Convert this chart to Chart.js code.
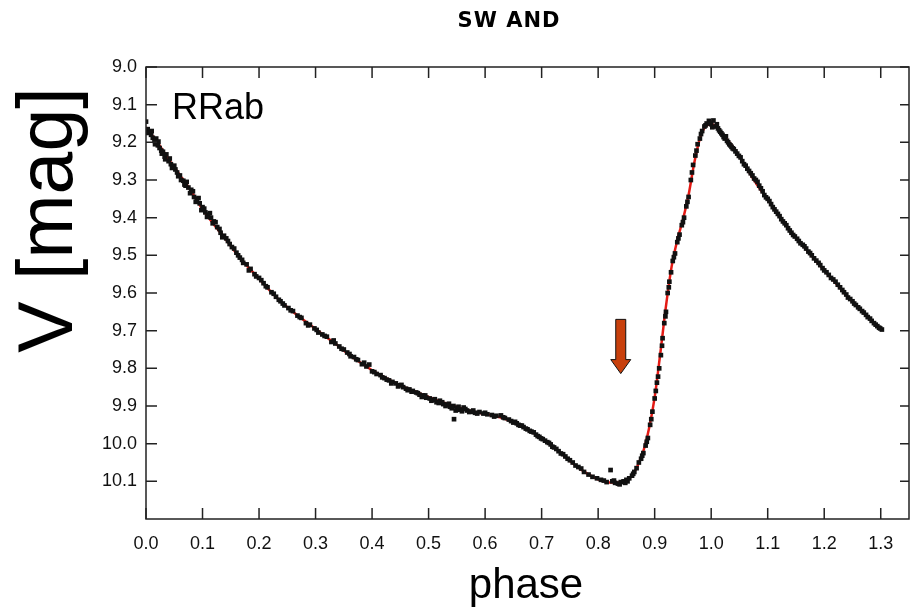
<!DOCTYPE html>
<html>
<head>
<meta charset="utf-8">
<title>SW AND light curve</title>
<script src="https://cdn.jsdelivr.net/npm/chart.js@4.4.1/dist/chart.umd.min.js"></script>
<style>
  html, body { margin: 0; padding: 0; background: #fff; }
  canvas { display: block; }
</style>
</head>
<body>
<canvas id="lightcurve" width="913" height="611"></canvas>
<script>
// Axis ticks and ranges
const phaseTicks = [0.0, 0.1, 0.2, 0.3, 0.4, 0.5, 0.6, 0.7, 0.8, 0.9, 1.0, 1.1, 1.2, 1.3];
const magTicks = [9.0, 9.1, 9.2, 9.3, 9.4, 9.5, 9.6, 9.7, 9.8, 9.9, 10.0, 10.1];
const phaseRange = [0, 1.35];
const magRange = [9.0, 10.2];

// Fitted light curve (red line)
const fitPhase = [0.00, 0.02, 0.04, 0.06, 0.08, 0.10, 0.12, 0.14, 0.16, 0.18,
                  0.20, 0.22, 0.24, 0.26, 0.28, 0.30, 0.32, 0.34, 0.36, 0.38,
                  0.40, 0.42, 0.44, 0.46, 0.48, 0.50, 0.52, 0.54, 0.56, 0.58,
                  0.60, 0.62, 0.64, 0.66, 0.68, 0.70, 0.72, 0.74, 0.76, 0.78,
                  0.80, 0.82, 0.84, 0.85, 0.86, 0.87, 0.88, 0.89, 0.90, 0.91,
                  0.92, 0.93, 0.94, 0.95, 0.96, 0.97, 0.98, 0.99, 1.00, 1.01,
                  1.02, 1.04, 1.06, 1.08, 1.10, 1.12, 1.14, 1.16, 1.18, 1.20,
                  1.22, 1.24, 1.26, 1.28, 1.30];
const fitMag = [9.160, 9.200, 9.245, 9.287, 9.330, 9.378, 9.418, 9.455, 9.495, 9.530,
                9.562, 9.595, 9.625, 9.650, 9.673, 9.695, 9.718, 9.740, 9.765, 9.785,
                9.805, 9.822, 9.838, 9.852, 9.864, 9.876, 9.888, 9.898, 9.907, 9.915,
                9.921, 9.927, 9.937, 9.950, 9.966, 9.986, 10.008, 10.033, 10.058, 10.079,
                10.095, 10.103, 10.103, 10.097, 10.085, 10.058, 10.020, 9.960, 9.877, 9.760,
                9.635, 9.530, 9.460, 9.405, 9.340, 9.255, 9.190, 9.158, 9.152, 9.160,
                9.178, 9.215, 9.262, 9.310, 9.352, 9.395, 9.435, 9.470, 9.505, 9.540,
                9.573, 9.608, 9.638, 9.668, 9.695];

// Observations [phase, V]
const obsPoints = [
  [0.000, 9.145], [0.003, 9.165], [0.006, 9.172], [0.009, 9.180], [0.012, 9.188],
  [0.015, 9.196], [0.018, 9.190], [0.021, 9.208], [0.024, 9.215], [0.027, 9.222],
  [0.030, 9.225], [0.033, 9.238], [0.036, 9.232], [0.040, 9.250], [0.044, 9.258],
  [0.048, 9.265], [0.052, 9.272], [0.057, 9.290], [0.062, 9.300], [0.066, 9.302],
  [0.070, 9.315], [0.075, 9.320], [0.080, 9.326], [0.085, 9.345], [0.090, 9.350],
  [0.095, 9.362], [0.100, 9.372], [0.105, 9.386], [0.110, 9.392], [0.115, 9.400],
  [0.120, 9.410], [0.126, 9.425], [0.132, 9.440], [0.138, 9.448], [0.145, 9.462],
  [0.152, 9.478], [0.160, 9.493], [0.166, 9.506], [0.172, 9.520], [0.178, 9.524],
  [0.185, 9.536], [0.192, 9.550], [0.200, 9.560], [0.208, 9.574], [0.215, 9.585],
  [0.222, 9.598], [0.230, 9.610], [0.238, 9.622], [0.245, 9.633], [0.252, 9.640],
  [0.260, 9.648], [0.268, 9.660], [0.275, 9.666], [0.283, 9.680], [0.290, 9.684],
  [0.298, 9.694], [0.305, 9.705], [0.312, 9.710], [0.320, 9.716], [0.328, 9.730],
  [0.335, 9.734], [0.342, 9.742], [0.350, 9.750], [0.356, 9.758], [0.362, 9.768],
  [0.368, 9.770], [0.375, 9.778], [0.382, 9.789], [0.390, 9.795], [0.395, 9.790],
  [0.400, 9.808], [0.408, 9.815], [0.415, 9.818], [0.422, 9.826], [0.430, 9.832],
  [0.436, 9.836], [0.442, 9.840], [0.448, 9.845], [0.455, 9.850], [0.460, 9.854],
  [0.466, 9.856], [0.472, 9.860], [0.478, 9.864], [0.484, 9.870], [0.490, 9.872],
  [0.496, 9.878], [0.502, 9.880], [0.508, 9.884], [0.514, 9.890], [0.520, 9.886],
  [0.526, 9.895], [0.532, 9.896], [0.538, 9.902], [0.544, 9.900], [0.545, 9.935],
  [0.550, 9.905], [0.556, 9.910], [0.562, 9.904], [0.568, 9.912], [0.575, 9.915],
  [0.582, 9.918], [0.590, 9.916], [0.597, 9.920], [0.604, 9.922], [0.612, 9.924],
  [0.620, 9.926], [0.628, 9.925], [0.635, 9.932], [0.642, 9.936], [0.650, 9.944],
  [0.656, 9.946], [0.662, 9.952], [0.668, 9.956], [0.675, 9.962], [0.682, 9.968],
  [0.690, 9.976], [0.696, 9.982], [0.702, 9.988], [0.710, 9.996], [0.716, 10.002],
  [0.722, 10.010], [0.730, 10.020], [0.738, 10.028], [0.746, 10.040], [0.755, 10.050],
  [0.765, 10.062], [0.775, 10.075], [0.790, 10.088], [0.805, 10.096], [0.815, 10.102],
  [0.822, 10.070], [0.825, 10.100], [0.830, 10.104], [0.835, 10.106], [0.840, 10.102],
  [0.845, 10.100], [0.850, 10.096], [0.855, 10.092], [0.860, 10.085], [0.864, 10.075],
  [0.868, 10.065], [0.872, 10.050], [0.876, 10.040], [0.880, 10.025], [0.884, 10.005],
  [0.888, 9.985], [0.892, 9.950], [0.896, 9.915], [0.900, 9.880], [0.904, 9.838],
  [0.908, 9.800], [0.911, 9.765], [0.914, 9.720], [0.917, 9.680], [0.920, 9.650],
  [0.923, 9.600], [0.926, 9.570], [0.929, 9.545], [0.932, 9.515], [0.936, 9.495],
  [0.940, 9.465], [0.944, 9.445], [0.948, 9.420], [0.952, 9.400], [0.956, 9.370],
  [0.960, 9.345], [0.964, 9.300], [0.968, 9.260], [0.972, 9.235], [0.976, 9.205],
  [0.980, 9.190], [0.984, 9.170], [0.988, 9.158], [0.992, 9.150], [0.996, 9.143],
  [1.000, 9.152], [1.004, 9.142], [1.008, 9.158], [1.012, 9.163], [1.016, 9.172],
  [1.020, 9.180], [1.024, 9.190], [1.028, 9.196], [1.032, 9.205], [1.036, 9.212],
  [1.040, 9.218], [1.046, 9.230], [1.052, 9.240], [1.058, 9.258], [1.064, 9.270],
  [1.070, 9.282], [1.076, 9.296], [1.082, 9.305], [1.088, 9.322], [1.094, 9.340],
  [1.100, 9.350], [1.106, 9.364], [1.112, 9.378], [1.118, 9.390], [1.124, 9.404],
  [1.130, 9.415], [1.136, 9.428], [1.142, 9.440], [1.148, 9.450], [1.155, 9.462],
  [1.162, 9.472], [1.168, 9.482], [1.175, 9.494], [1.182, 9.508], [1.190, 9.520],
  [1.197, 9.534], [1.204, 9.545], [1.212, 9.560], [1.220, 9.570], [1.228, 9.585],
  [1.235, 9.598], [1.242, 9.612], [1.250, 9.622], [1.256, 9.632], [1.263, 9.642],
  [1.270, 9.652], [1.277, 9.664], [1.284, 9.674], [1.291, 9.684], [1.297, 9.692],
  [1.302, 9.697],
  [0.004, 9.175], [0.010, 9.170], [0.016, 9.205], [0.022, 9.198], [0.028, 9.230],
  [0.034, 9.245], [0.042, 9.243], [0.046, 9.268], [0.050, 9.262], [0.055, 9.280],
  [0.060, 9.288], [0.068, 9.312], [0.072, 9.305], [0.078, 9.335], [0.083, 9.330],
  [0.088, 9.358], [0.093, 9.348], [0.098, 9.380], [0.103, 9.376], [0.108, 9.398],
  [0.113, 9.388], [0.118, 9.415], [0.123, 9.412], [0.130, 9.430], [0.135, 9.452],
  [0.142, 9.455], [0.148, 9.470], [0.156, 9.482], [0.163, 9.500], [0.170, 9.512],
  [0.182, 9.540], [0.195, 9.556], [0.204, 9.566], [0.212, 9.582], [0.226, 9.602],
  [0.235, 9.618], [0.242, 9.628], [0.256, 9.646], [0.272, 9.664], [0.287, 9.686],
  [0.302, 9.698], [0.316, 9.714], [0.332, 9.726], [0.346, 9.748], [0.360, 9.762],
  [0.372, 9.776], [0.386, 9.785], [0.404, 9.810], [0.418, 9.824], [0.426, 9.830],
  [0.434, 9.840], [0.446, 9.848], [0.452, 9.844], [0.463, 9.858], [0.470, 9.862],
  [0.481, 9.866], [0.488, 9.876], [0.494, 9.872], [0.505, 9.886], [0.511, 9.882],
  [0.518, 9.892], [0.524, 9.890], [0.530, 9.900], [0.536, 9.894], [0.541, 9.906],
  [0.548, 9.912], [0.553, 9.902], [0.559, 9.914], [0.565, 9.908], [0.572, 9.916],
  [0.579, 9.912], [0.586, 9.920], [0.600, 9.918], [0.616, 9.928], [0.632, 9.930],
  [0.646, 9.940], [0.653, 9.942], [0.659, 9.950], [0.665, 9.952], [0.672, 9.960],
  [0.679, 9.966], [0.686, 9.970], [0.693, 9.980], [0.699, 9.986], [0.706, 9.992],
  [0.713, 9.998], [0.719, 10.008], [0.726, 10.014], [0.734, 10.026], [0.742, 10.034],
  [0.750, 10.044], [0.760, 10.058], [0.770, 10.066], [0.783, 10.082], [0.798, 10.092],
  [0.810, 10.098], [0.828, 10.098], [0.838, 10.108], [0.848, 10.104], [0.852, 10.100],
  [0.862, 10.080], [0.878, 10.032], [0.886, 9.995], [0.894, 9.935], [0.902, 9.860],
  [0.906, 9.822], [0.913, 9.740], [0.919, 9.662], [0.925, 9.585], [0.934, 9.505],
  [0.942, 9.455], [0.950, 9.412], [0.958, 9.358], [0.966, 9.280], [0.974, 9.222],
  [0.982, 9.178], [0.990, 9.155], [0.998, 9.148], [1.002, 9.160], [1.010, 9.152],
  [1.014, 9.168], [1.018, 9.176], [1.022, 9.186], [1.026, 9.184], [1.030, 9.200],
  [1.034, 9.208], [1.038, 9.216], [1.043, 9.224], [1.049, 9.236], [1.055, 9.250],
  [1.061, 9.262], [1.067, 9.276], [1.073, 9.288], [1.079, 9.300], [1.085, 9.315],
  [1.091, 9.330], [1.097, 9.346], [1.103, 9.356], [1.109, 9.372], [1.115, 9.384],
  [1.121, 9.396], [1.127, 9.410], [1.133, 9.420], [1.139, 9.434], [1.145, 9.446],
  [1.152, 9.456], [1.158, 9.468], [1.165, 9.476], [1.172, 9.490], [1.178, 9.500],
  [1.186, 9.514], [1.193, 9.526], [1.200, 9.540], [1.208, 9.552], [1.216, 9.564],
  [1.224, 9.578], [1.232, 9.592], [1.239, 9.604], [1.246, 9.616], [1.253, 9.628],
  [1.260, 9.638], [1.267, 9.648], [1.274, 9.658], [1.281, 9.668], [1.288, 9.680],
  [1.294, 9.688], [1.299, 9.694]
];

// Arrow marker: phase, top V, tip V
const arrowMark = [0.84, 9.67, 9.814];

const chartTitle = 'SW AND';
const typeLabel = 'RRab';
const xTitle = 'phase';
const yTitle = 'V [mag]';

const tickFont = { family: "'Liberation Sans Narrow', 'Liberation Sans', Arial, sans-serif", size: 18 };

// Frame, inward ticks, arrow and text labels
const decorPlugin = {
    id: 'decor',
    afterDatasetsDraw(chart) {
        const ctx = chart.ctx;
        const area = chart.chartArea;
        const xs = chart.scales.x;
        const ys = chart.scales.y;

        ctx.save();
        // frame
        ctx.strokeStyle = '#222';
        ctx.lineWidth = 1.5;
        ctx.strokeRect(area.left, area.top, area.right - area.left, area.bottom - area.top);

        // inward ticks
        ctx.beginPath();
        phaseTicks.forEach(v => {
            const x = xs.getPixelForValue(v);
            ctx.moveTo(x, area.bottom);
            ctx.lineTo(x, area.bottom - 11);
            ctx.moveTo(x, area.top);
            ctx.lineTo(x, area.top + 11);
        });
        magTicks.forEach(v => {
            const y = ys.getPixelForValue(v);
            ctx.moveTo(area.left, y);
            ctx.lineTo(area.left + 11, y);
            ctx.moveTo(area.right, y);
            ctx.lineTo(area.right - 9, y);
        });
        ctx.stroke();

        // arrow
        const ax = xs.getPixelForValue(arrowMark[0]);
        const ayTop = ys.getPixelForValue(arrowMark[1]);
        const ayTip = ys.getPixelForValue(arrowMark[2]);
        const headH = 14;
        ctx.beginPath();
        ctx.moveTo(ax - 5, ayTop);
        ctx.lineTo(ax + 5, ayTop);
        ctx.lineTo(ax + 5, ayTip - headH);
        ctx.lineTo(ax + 10, ayTip - headH);
        ctx.lineTo(ax, ayTip);
        ctx.lineTo(ax - 10, ayTip - headH);
        ctx.lineTo(ax - 5, ayTip - headH);
        ctx.closePath();
        ctx.fillStyle = '#c8400c';
        ctx.fill();
        ctx.lineWidth = 1;
        ctx.strokeStyle = '#111';
        ctx.stroke();

        // title
        ctx.fillStyle = '#000';
        ctx.textBaseline = 'alphabetic';
        ctx.textAlign = 'center';
        ctx.font = "bold 21px 'DejaVu Sans', sans-serif";
        ctx.letterSpacing = '1px';
        ctx.fillText(chartTitle, 509, 27);
        ctx.letterSpacing = '0px';

        // variable type
        ctx.textAlign = 'left';
        ctx.font = "36px 'Liberation Sans', Arial, sans-serif";
        ctx.fillText(typeLabel, 172, 119);

        // x title
        ctx.textAlign = 'center';
        ctx.font = "42px 'Liberation Sans', Arial, sans-serif";
        ctx.fillText(xTitle, 526, 598);

        // y title
        ctx.save();
        ctx.translate(72, 220);
        ctx.rotate(-Math.PI / 2);
        ctx.font = "77px 'Liberation Sans', Arial, sans-serif";
        ctx.fillText(yTitle, 0, 0);
        ctx.restore();

        ctx.restore();
    }
};

new Chart(document.getElementById('lightcurve'), {
    type: 'scatter',
    data: {
        datasets: [
            {
                label: 'observations',
                data: obsPoints.map(p => ({ x: p[0], y: p[1] })),
                pointStyle: 'rect',
                pointRadius: 3.3,
                backgroundColor: '#111',
                borderWidth: 0,
                showLine: false,
                order: 0
            },
            {
                label: 'fit',
                data: fitPhase.map((p, i) => ({ x: p, y: fitMag[i] })),
                showLine: true,
                borderColor: '#e41a14',
                borderWidth: 2.5,
                pointRadius: 0,
                cubicInterpolationMode: 'monotone',
                order: 1
            }
        ]
    },
    options: {
        responsive: false,
        animation: false,
        layout: { padding: { top: 67, right: 2, bottom: 32, left: 0 } },
        plugins: {
            legend: { display: false },
            tooltip: { enabled: false },
            title: { display: false }
        },
        scales: {
            x: {
                type: 'linear',
                min: phaseRange[0],
                max: phaseRange[1],
                afterBuildTicks: s => { s.ticks = phaseTicks.map(v => ({ value: v })); },
                afterFit: s => { s.height = 60; },
                grid: { display: false, drawTicks: false },
                border: { display: false },
                ticks: {
                    callback: v => Number(v).toFixed(1),
                    font: tickFont,
                    color: '#111',
                    padding: 14,
                    maxRotation: 0,
                    autoSkip: false
                }
            },
            y: {
                type: 'linear',
                reverse: true,
                min: magRange[0],
                max: magRange[1],
                afterBuildTicks: s => { s.ticks = magTicks.map(v => ({ value: v })); },
                afterFit: s => { s.width = 146; },
                grid: { display: false, drawTicks: false },
                border: { display: false },
                ticks: {
                    callback: v => Number(v).toFixed(1),
                    font: tickFont,
                    color: '#111',
                    padding: 9,
                    autoSkip: false
                }
            }
        }
    },
    plugins: [decorPlugin]
});
</script>
</body>
</html>
